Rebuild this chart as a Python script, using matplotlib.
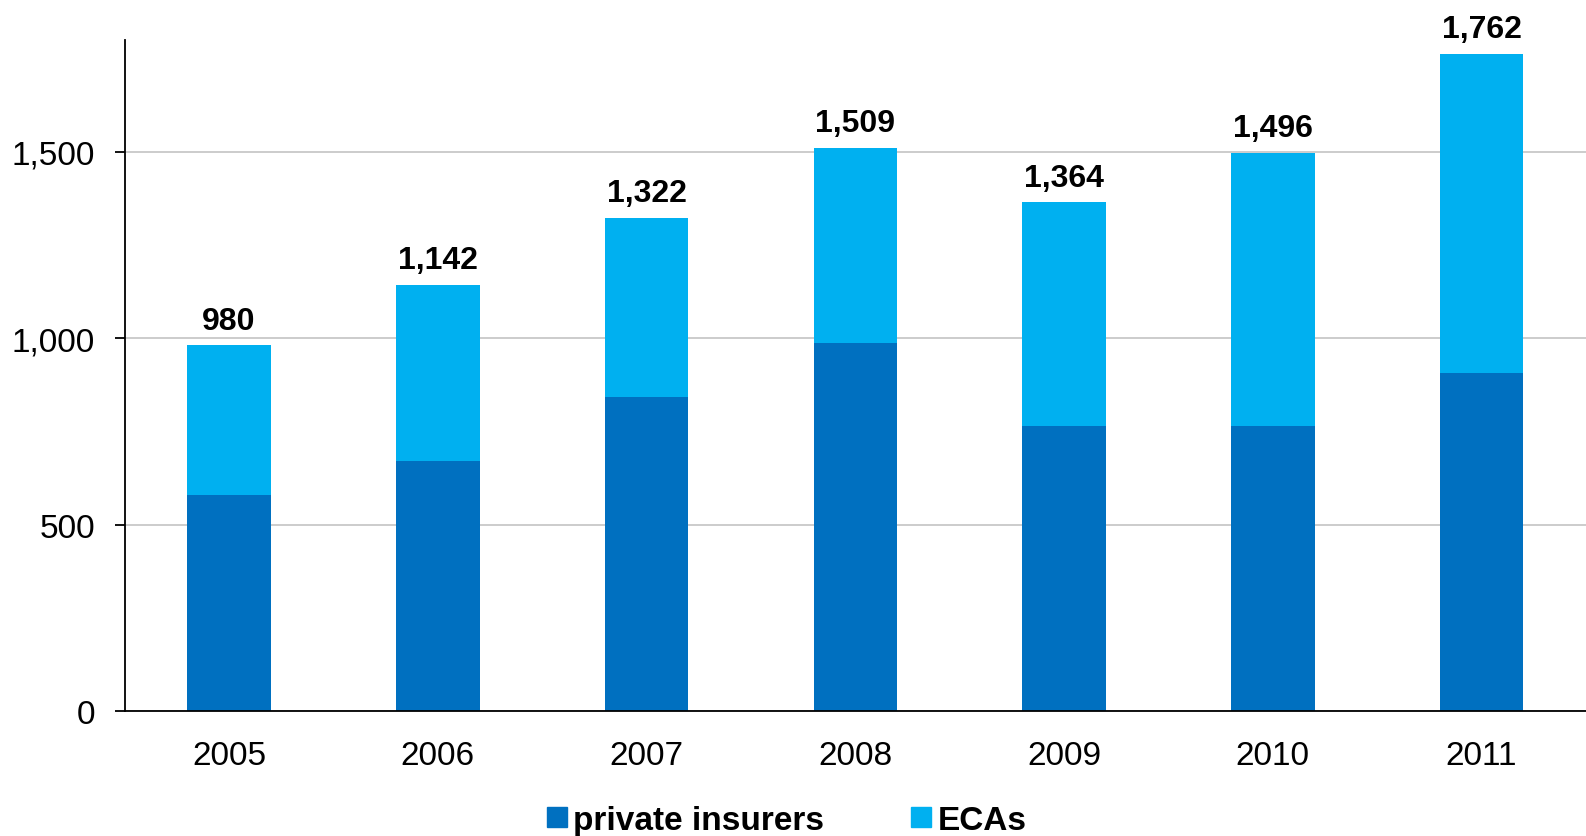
import matplotlib.pyplot as plt
from matplotlib.lines import Line2D
import numpy as np

plt.rcParams['font.family'] = ['Liberation Sans', 'DejaVu Sans']

years = ["2005", "2006", "2007", "2008", "2009", "2010", "2011"]
totals = [980, 1142, 1322, 1509, 1364, 1496, 1762]
private = [578, 671, 841, 986, 765, 765, 907]
ecas = [t - p for t, p in zip(totals, private)]

dark = "#0070C0"
light = "#00B0F0"

fig = plt.figure(figsize=(15.86, 8.37), dpi=100)
ax = fig.add_axes([0.0786, 0.1493, 0.9214, 0.8022])

x = np.arange(len(years))
ax.bar(x, private, width=0.4, color=dark, zorder=2)
ax.bar(x, ecas, width=0.4, bottom=private, color=light, zorder=2)

for xi, t in zip(x, totals):
    ax.annotate(f"{t:,}", (xi, t), xytext=(0, 12), textcoords="offset points",
                ha="center", va="baseline", fontsize=23, fontweight="bold")

ax.set_xlim(-0.5, len(years) - 0.5)
ax.set_ylim(0, 1800)
ax.set_yticks([0, 500, 1000, 1500])
ax.set_yticklabels([f"{v:,}" for v in [0, 500, 1000, 1500]])
ax.set_xticks(x)
ax.set_xticklabels(years)

ax.yaxis.grid(True, color="#C8C8C8", linewidth=1.3)
ax.set_axisbelow(True)
for s in ["top", "right"]:
    ax.spines[s].set_visible(False)
for s in ["left", "bottom"]:
    ax.spines[s].set_linewidth(1.3)
    ax.spines[s].set_color("black")

ax.tick_params(axis="y", length=7, width=1.3, pad=14.5, labelsize=24)
ax.tick_params(axis="x", length=0, pad=21, labelsize=24)

handles = [
    Line2D([], [], marker="s", linestyle="", markersize=14, color=dark),
    Line2D([], [], marker="s", linestyle="", markersize=14, color=light),
]
fig.legend(handles, ["private insurers", "ECAs"], loc="lower center",
           bbox_to_anchor=(0.496, -0.036), ncol=2, frameon=False,
           prop={"size": 24, "weight": "bold"}, handlelength=0.6,
           handletextpad=0.2, columnspacing=2.6)

fig.savefig("out.png", dpi=100)
